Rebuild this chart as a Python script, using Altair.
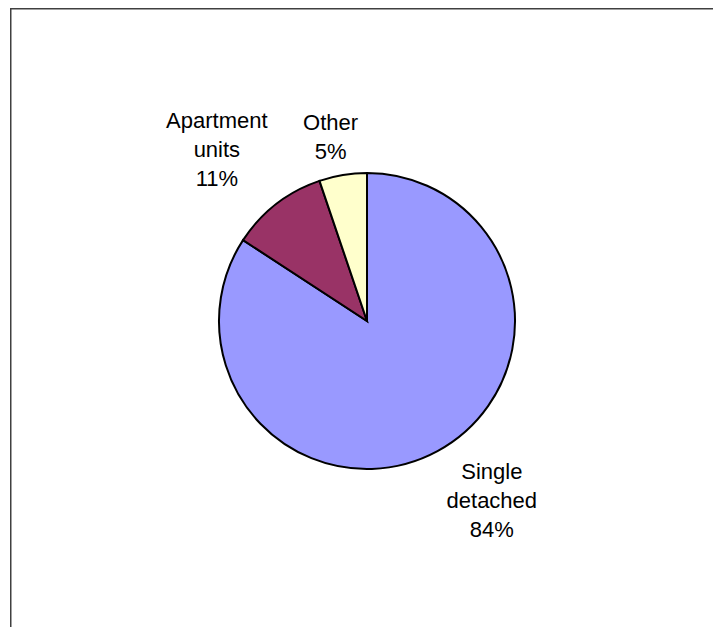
import altair as alt
import pandas as pd

categories = ["Single detached", "Apartment units", "Other"]
values = [84.2, 10.6, 5.2]
labels = ["Single\ndetached\n84%", "Apartment\nunits\n11%", "Other\n5%"]
colors = ["#9999FF", "#993366", "#FFFFCC"]

df = pd.DataFrame({
    "category": categories,
    "value": values,
    "label": labels,
    "idx": list(range(len(categories))),
})

CX, CY, R = 359, 313, 148
FONT = "Liberation Sans"

base = alt.Chart(df)

pie = base.mark_arc(radius=R, stroke="black", strokeWidth=2).encode(
    theta=alt.Theta("value:Q", stack=True),
    color=alt.Color("category:N", scale=alt.Scale(domain=categories, range=colors), legend=None),
    order=alt.Order("idx:Q"),
    x=alt.value(CX),
    y=alt.value(CY),
)

def label_layer(cat, radius, dx, dy):
    return base.mark_text(
        radius=radius, dx=dx, dy=dy, font=FONT, fontSize=22,
        lineBreak="\n", lineHeight=29, align="center", baseline="middle", color="black",
    ).encode(
        theta=alt.Theta("value:Q", stack=True),
        order=alt.Order("idx:Q"),
        text=alt.condition(alt.datum.category == cat, alt.Text("label:N"), alt.value("")),
        x=alt.value(CX),
        y=alt.value(CY),
    )

lab_single = label_layer("Single detached", 218, 21, -41)
lab_apt = label_layer("Apartment units", 227, -11, -21)
lab_other = label_layer("Other", 187, -6, -13)

one = alt.Data(values=[{}])
top_line = alt.Chart(one).mark_rule(color="#404040", strokeWidth=1.5).encode(
    x=alt.value(2), x2=alt.value(720), y=alt.value(0.75)
)
left_line = alt.Chart(one).mark_rule(color="#404040", strokeWidth=1.5).encode(
    x=alt.value(2.75), y=alt.value(0), y2=alt.value(640)
)

chart = alt.layer(pie, lab_single, lab_apt, lab_other, top_line, left_line).properties(
    width=705, height=619, padding=0, autosize=alt.AutoSizeParams(type="none")
).configure_view(stroke=None)

chart.save("out.html", embed_options={"renderer": "svg", "actions": False})
